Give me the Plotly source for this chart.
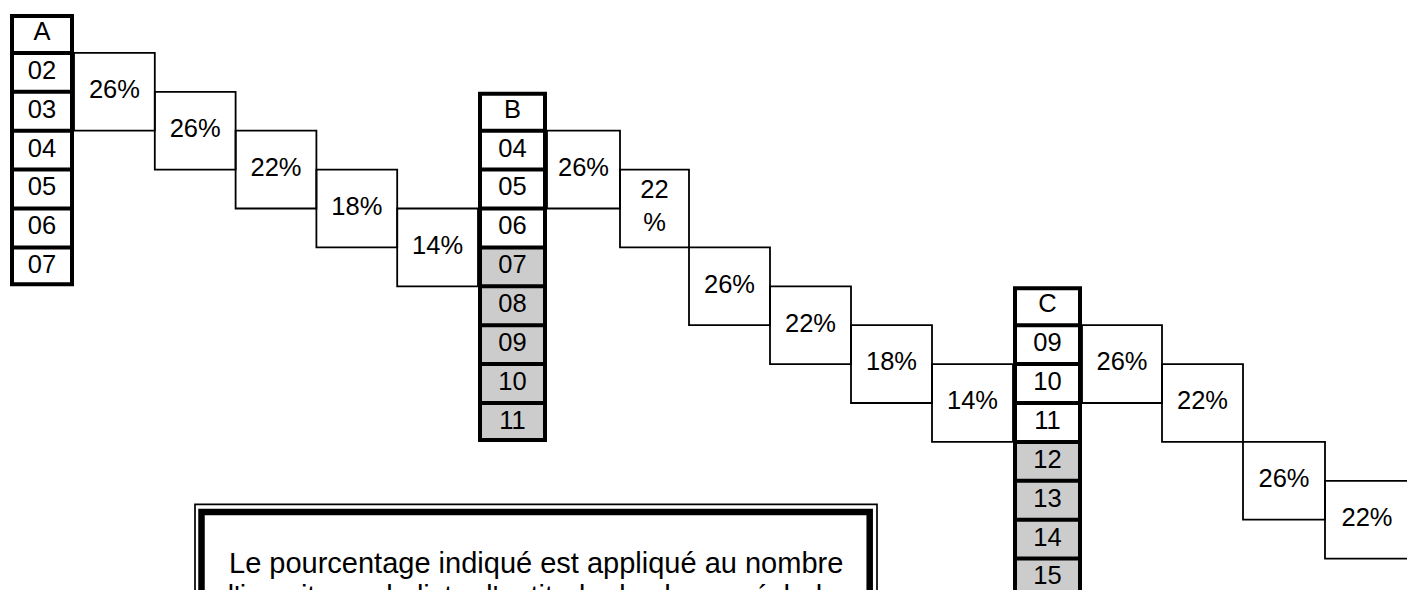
import plotly.graph_objects as go

# ---------------- data ----------------
col_names = ["A", "B", "C"]
labels_A = ["02", "03", "04", "05", "06", "07"]
labels_B = ["04", "05", "06", "07", "08", "09", "10", "11"]
labels_C = ["09", "10", "11", "12", "13", "14", "15"]
shaded_A = []
shaded_B = ["07", "08", "09", "10", "11"]
shaded_C = ["12", "13", "14", "15"]
header_rows = [0, 2, 7]            # grid row of each column header
steps_A = [26, 26, 22, 18, 14]     # percentages
steps_B = [26, 22, 26, 22, 18, 14]
steps_C = [26, 22, 26, 22]
step_rows_A = [1, 2, 3, 4, 5]      # grid row where each step box starts
step_rows_B = [3, 4, 6, 7, 8, 9]
step_rows_C = [8, 9, 11, 12]
note_lines = ["Le pourcentage indiqué est appliqué au nombre",
              "d'inscrits sur la liste d'aptitude de chaque échelon"]

# ---------------- layout ----------------
W, H = 1407, 590
ROW_TOP, ROW_H = 14.0, 38.9
COL_X = {"A": (10, 74), "B": (478, 547), "C": (1013, 1082)}
STEP_W = {"A": [80.8] * 5, "B": [73, 69, 81, 81, 81, 81], "C": [80, 81, 82, 84]}
FONT = "Liberation Sans, Arial, sans-serif"
GRAY = "#cccccc"
THICK, THIN = 4, 1.8
NOTE_X = (195, 877)
TXT = 25.5


def row_unit(px):
    return (px - ROW_TOP) / ROW_H


cols = [
    dict(name="A", labels=labels_A, shaded=shaded_A, hr=header_rows[0], steps=steps_A, srows=step_rows_A),
    dict(name="B", labels=labels_B, shaded=shaded_B, hr=header_rows[1], steps=steps_B, srows=step_rows_B),
    dict(name="C", labels=labels_C, shaded=shaded_C, hr=header_rows[2], steps=steps_C, srows=step_rows_C),
]

shapes = []
cell_x, cell_y, cell_t = [], [], []
pct_x, pct_y, pct_t = [], [], []
bx = 2.0 / ROW_H  # half border thickness in row units

for c in cols:
    x0, x1 = COL_X[c["name"]]
    r0 = c["hr"]
    n = len(c["labels"]) + 1
    # step boxes
    sx = x1
    for pct, sr, w in zip(c["steps"], c["srows"], STEP_W[c["name"]]):
        shapes.append(dict(type="rect", xref="x", yref="y", x0=sx, x1=sx + w, y0=sr, y1=sr + 2,
                           line=dict(color="black", width=THIN), layer="above"))
        pct_x.append(sx + w / 2)
        pct_y.append(sr + 1)
        pct_t.append(f"{pct}<br>%" if w < 72 else f"{pct}%")
        sx += w
    # gray fills
    for i, lab in enumerate(c["labels"]):
        if lab in c["shaded"]:
            shapes.append(dict(type="rect", xref="x", yref="y", x0=x0 + 2, x1=x1 - 2,
                               y0=r0 + 1 + i, y1=r0 + 2 + i,
                               fillcolor=GRAY, line=dict(width=0), layer="below"))
    # borders
    shapes.append(dict(type="rect", xref="x", yref="y", x0=x0 + 2, x1=x1 - 2, y0=r0 + bx, y1=r0 + n - bx,
                       line=dict(color="black", width=THICK), layer="above"))
    for k in range(1, n):
        shapes.append(dict(type="line", xref="x", yref="y", x0=x0, x1=x1, y0=r0 + k, y1=r0 + k,
                           line=dict(color="black", width=THICK), layer="above"))
    # labels
    for i, lab in enumerate([c["name"]] + c["labels"]):
        cell_x.append((x0 + x1) / 2)
        cell_y.append(r0 + i + 0.5)
        cell_t.append(lab)

# note box (double border, runs off the bottom as in the reference)
nx0, nx1 = NOTE_X
shapes.append(dict(type="rect", xref="x", yref="y", x0=nx0, x1=nx1, y0=row_unit(504.3), y1=row_unit(700),
                   line=dict(color="black", width=1.7), layer="above"))
shapes.append(dict(type="rect", xref="x", yref="y", x0=nx0 + 6.5, x1=nx1 - 7.3, y0=row_unit(512), y1=row_unit(700),
                   line=dict(color="black", width=6.5), layer="above"))

fig = go.Figure()
fig.add_trace(go.Scatter(x=cell_x, y=cell_y, text=cell_t, mode="text", hoverinfo="skip",
                         textposition="middle center", cliponaxis=False,
                         textfont=dict(family=FONT, size=TXT, color="black")))
fig.add_trace(go.Scatter(x=pct_x, y=pct_y, text=pct_t, mode="text", hoverinfo="skip",
                         textposition="middle center", cliponaxis=False,
                         textfont=dict(family=FONT, size=TXT, color="black")))

annotations = []
for i, line in enumerate(note_lines):
    annotations.append(dict(x=(nx0 + nx1) / 2, y=1 - (563 + i * 33) / H, xref="x", yref="paper",
                            text=line, showarrow=False, xanchor="center", yanchor="middle",
                            font=dict(family=FONT, size=29, color="black")))

fig.update_layout(
    width=W, height=H, margin=dict(l=0, r=0, t=0, b=0),
    paper_bgcolor="white", plot_bgcolor="white", showlegend=False,
    shapes=shapes, annotations=annotations,
    xaxis=dict(range=[0, W], visible=False, fixedrange=True),
    yaxis=dict(range=[row_unit(H), row_unit(0)], visible=False, fixedrange=True),
)
fig.write_html("out.html", config={"displayModeBar": False},
               post_script="document.body.style.margin='0';")
